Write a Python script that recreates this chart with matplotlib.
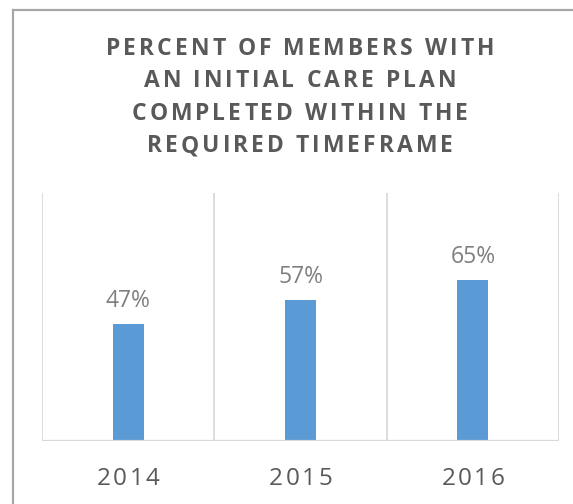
import matplotlib
matplotlib.use("Agg")
import matplotlib.pyplot as plt
from matplotlib import font_manager, ft2font
from matplotlib.font_manager import FontProperties
from matplotlib.lines import Line2D

# chart data
years = ["2014", "2015", "2016"]
percent = [0.47, 0.57, 0.65]
title_lines = ["PERCENT OF MEMBERS WITH", "AN INITIAL CARE PLAN",
               "COMPLETED WITHIN THE", "REQUIRED TIMEFRAME"]

W, H = 573, 504
fig = plt.figure(figsize=(W / 100, H / 100), dpi=100)
fig.patch.set_facecolor("white")


def tracked_text(s, cx, base_y, size, weight, color, track):
    # draw text letter by letter so we can add letter spacing (pixels, top-left origin)
    prop = FontProperties(family="Open Sans", weight=weight, size=size)
    font = ft2font.FT2Font(font_manager.findfont(prop))
    font.set_size(size, fig.dpi)
    advs = [font.load_char(ord(c)).linearHoriAdvance / 65536 for c in s]
    total = sum(advs) + track * (len(s) - 1)
    x = cx - total / 2
    for c, a in zip(s, advs):
        if c != " ":
            fig.text((x + a / 2) / W, 1 - base_y / H, c, ha="center", va="baseline",
                     fontproperties=prop, color=color)
        x += a + track


# plot area
ax = fig.add_axes([42 / W, 63 / H, 517 / W, 248 / H])
x = list(range(len(years)))
ax.bar(x, percent, width=0.18, color="#5B9BD5", zorder=3)
ax.set_xlim(-0.5, len(years) - 0.5)
ax.set_ylim(0, 1)
ax.set_xticks([])
ax.set_yticks([])
for s in ax.spines.values():
    s.set_visible(False)

grid_col = "#D9D9D9"
for b in [i - 0.5 for i in range(len(years) + 1)]:
    ax.axvline(b, color=grid_col, lw=1.3, zorder=1)
ax.axhline(0, color=grid_col, lw=1.6, zorder=4)

# data labels
for i, v in enumerate(percent):
    ax.annotate(f"{v * 100:.0f}%", (i, v), xytext=(0, 12.3), textcoords="offset points",
                ha="center", va="baseline", fontsize=16.5, family="Open Sans",
                color="#7F7F7F")

# category labels with letter spacing
for i, yr in enumerate(years):
    px = ax.transData.transform((i, 0))[0]
    tracked_text(yr, px, 485, 17.5, "normal", "#595959", 2.5)

# title
for k, line in enumerate(title_lines):
    tracked_text(line, 300, 55 + k * 32.4, 16.5, "bold", "#595959", 3.0)

# chart border (left and top edges visible)
fig.add_artist(Line2D([13 / W, 13 / W], [0, 1 - 10 / H], transform=fig.transFigure,
                      color="#A6A6A6", lw=1.6))
fig.add_artist(Line2D([13 / W, 1], [1 - 10 / H, 1 - 10 / H], transform=fig.transFigure,
                      color="#A6A6A6", lw=1.6))

fig.savefig("out.png", dpi=100)
